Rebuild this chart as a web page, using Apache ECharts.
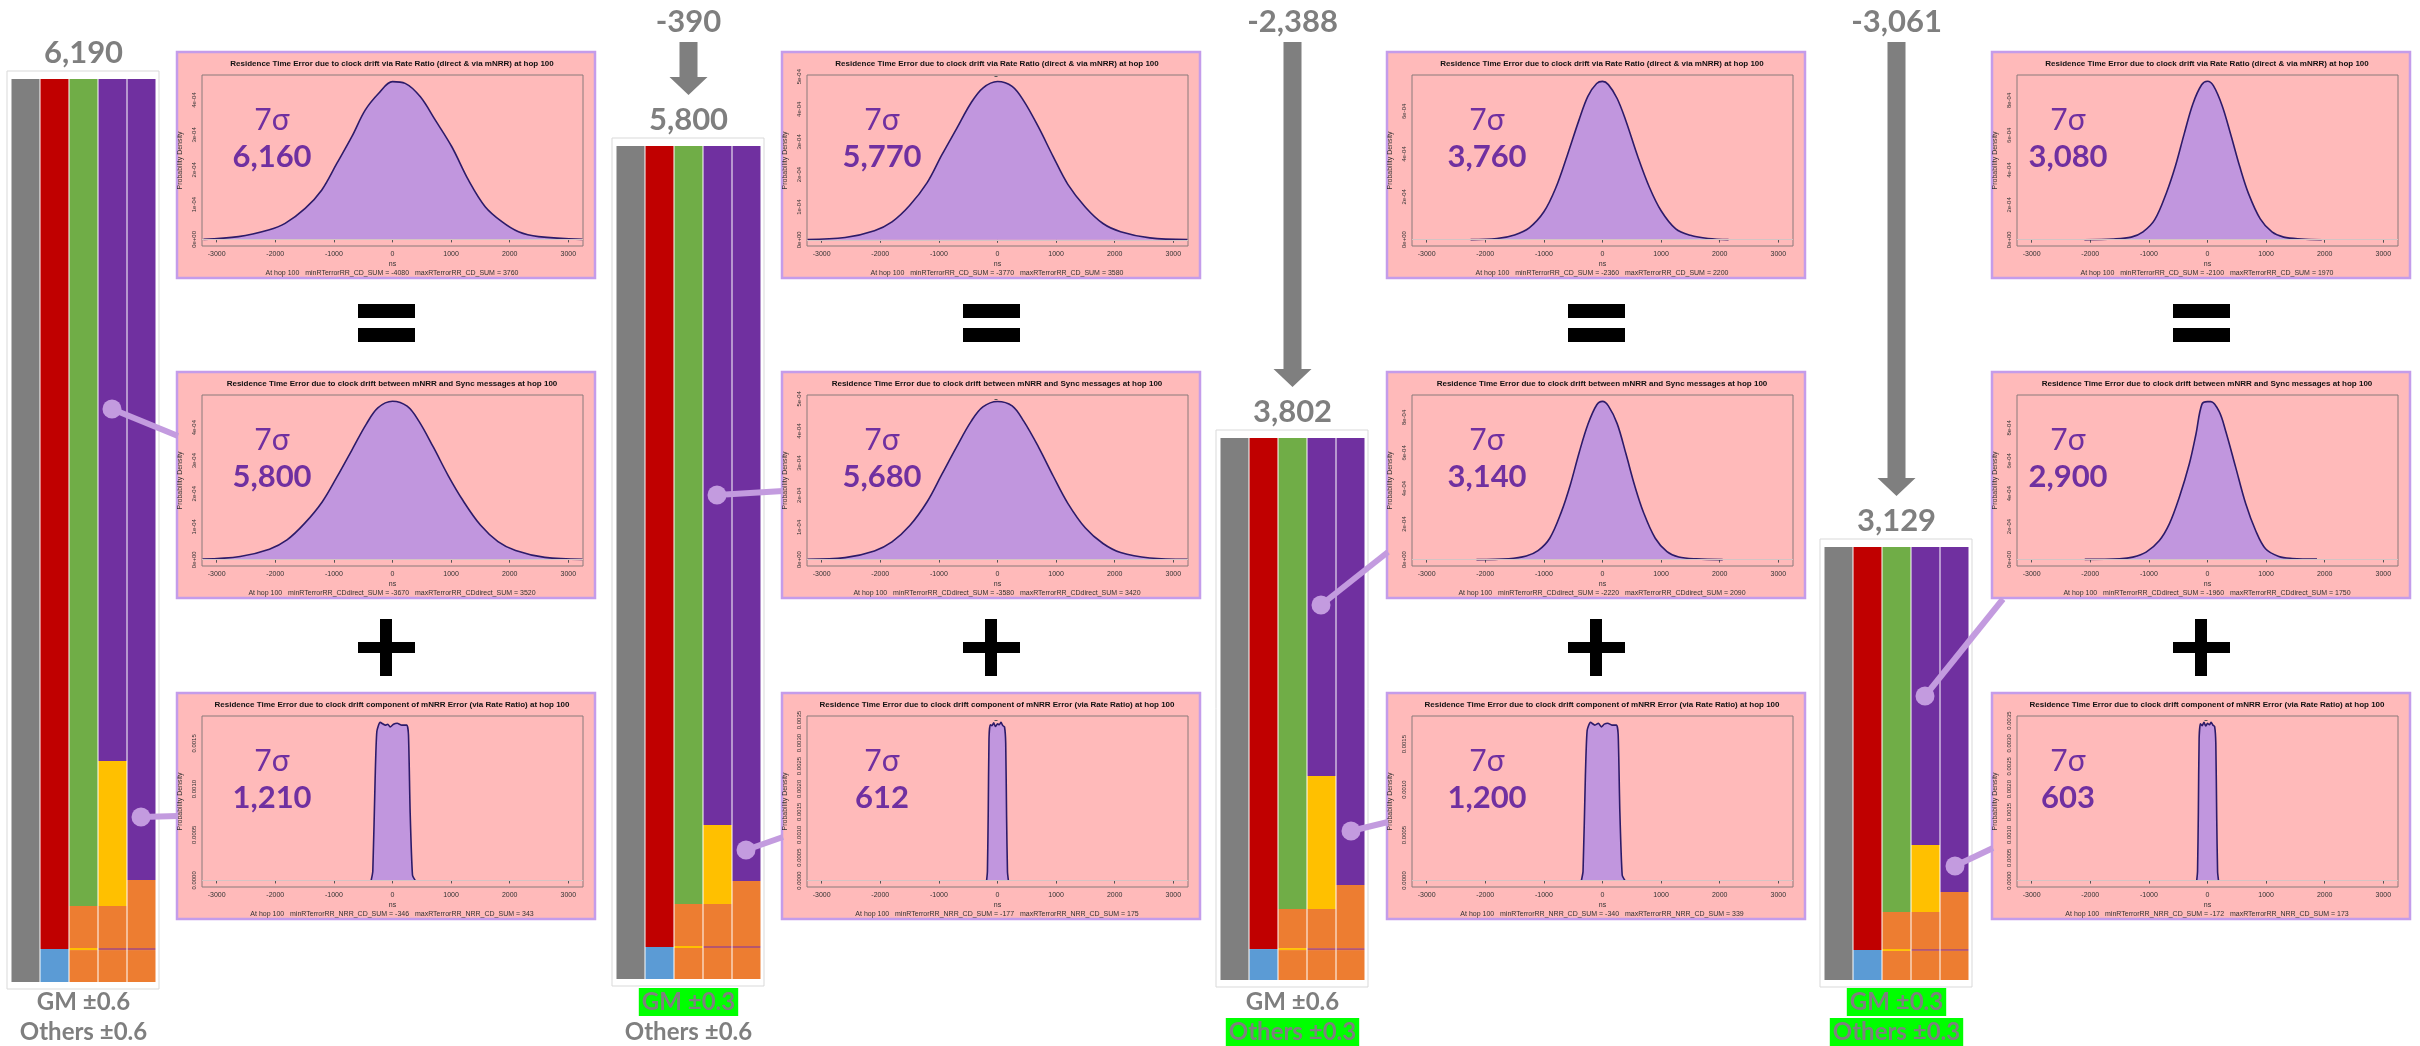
<!DOCTYPE html>
<html><head><meta charset="utf-8">
<script src="https://cdn.jsdelivr.net/npm/echarts@6/dist/echarts.min.js"></script>
<style>html,body{margin:0;padding:0;background:#fff}#c{width:2420px;height:1046px}</style>
</head><body><div id="c"></div>
<script>
// ---------------- DATA ----------------
const barCategories = ['1', '2', '3', '4', '5'];
const barTotals = [6190, 5800, 3802, 3129];
const barTotalLabels = ['6,190', '5,800', '3,802', '3,129'];
const deltaLabels = ['-390', '-2,388', '-3,061'];
const gmLabels = ['GM ±0.6', 'GM ±0.3', 'GM ±0.6', 'GM ±0.3'];
const othersLabels = ['Others ±0.6', 'Others ±0.6', 'Others ±0.3', 'Others ±0.3'];
const gmHighlighted = [false, true, false, true];
const othersHighlighted = [false, false, true, true];

// stacked segments per bar, bottom to top (ns)
const chart1Segments = [[6190], [226, 5964], [219, 14, 288, 5669], [219, 14, 288, 994, 4675], [219, 14, 466, 5491]];
const chart2Segments = [[5800], [223, 5577], [216, 14, 292, 5278], [216, 14, 292, 550, 4728], [216, 14, 453, 5117]];
const chart3Segments = [[3802], [217, 3585], [210, 14, 274, 3304], [210, 14, 274, 933, 2371], [210, 14, 442, 3136]];
const chart4Segments = [[3129], [217, 2912], [210, 14, 267, 2638], [210, 14, 267, 484, 2154], [210, 14, 412, 2493]];

// 7-sigma values shown in the density panels [row][col]
const sigmaRow1 = [6160, 5770, 3760, 3080];
const sigmaRow2 = [5800, 5680, 3140, 2900];
const sigmaRow3 = [1210, 612, 1200, 603];

const panelTitles = [
  'Residence Time Error due to clock drift via Rate Ratio (direct & via mNRR) at hop 100',
  'Residence Time Error due to clock drift between mNRR and Sync messages at hop 100',
  'Residence Time Error due to clock drift component of mNRR Error (via Rate Ratio) at hop 100'
];
const footerVars = ['RTerrorRR_CD_SUM', 'RTerrorRR_CDdirect_SUM', 'RTerrorRR_NRR_CD_SUM'];
const footerMinRow1 = [-4080, -3770, -2360, -2100];
const footerMaxRow1 = [3760, 3580, 2200, 1970];
const footerMinRow2 = [-3670, -3580, -2220, -1960];
const footerMaxRow2 = [3520, 3420, 2090, 1750];
const footerMinRow3 = [-346, -177, -340, -172];
const footerMaxRow3 = [343, 175, 339, 173];

// density curves: x in ns, y in units of 1e-4 probability density
const c1r1X = [-3225, -2628, -2116, -1832, -1490, -1206, -950, -694, -466, -239, 0, 216, 472, 728, 1012, 1297, 1581, 1866, 2150, 2491, 3240];
const c1r1Y = [0, 0.08, 0.27, 0.46, 0.89, 1.42, 2.18, 2.95, 3.71, 4.19, 4.53, 4.48, 4.10, 3.43, 2.66, 1.70, 0.94, 0.51, 0.22, 0.08, 0];
const c2r1X = [-3240, -2600, -2100, -1800, -1500, -1200, -950, -700, -450, -250, 0, 250, 450, 700, 950, 1200, 1500, 1800, 2100, 2600, 3240];
const c2r1Y = [0.01, 0.07, 0.28, 0.55, 1.05, 1.75, 2.6, 3.4, 4.2, 4.65, 4.85, 4.7, 4.25, 3.45, 2.55, 1.7, 1.0, 0.5, 0.25, 0.06, 0.01];
const c3r1X = [-2250, -1800, -1500, -1250, -1000, -800, -600, -400, -250, -100, 0, 100, 250, 400, 600, 800, 1000, 1250, 1500, 1800, 2150];
const c3r1Y = [0, 0.05, 0.22, 0.55, 1.3, 2.4, 3.95, 5.6, 6.7, 7.3, 7.4, 7.25, 6.6, 5.55, 3.9, 2.45, 1.35, 0.5, 0.2, 0.05, 0];
const c4r1X = [-2100, -1600, -1300, -1100, -900, -700, -550, -400, -250, -100, 0, 100, 250, 400, 550, 700, 900, 1100, 1300, 1600, 1950];
const c4r1Y = [0, 0.04, 0.15, 0.45, 1.15, 2.7, 4.2, 6.05, 7.8, 8.9, 9.1, 8.85, 7.7, 6.0, 4.2, 2.65, 1.2, 0.45, 0.15, 0.04, 0];

const c1r2X = [-3240, -2600, -2100, -1800, -1500, -1200, -950, -700, -450, -250, 0, 250, 450, 700, 950, 1200, 1500, 1800, 2100, 2600, 3240];
const c1r2Y = [0.02, 0.1, 0.32, 0.6, 1.1, 1.75, 2.5, 3.3, 4.1, 4.6, 4.8, 4.65, 4.2, 3.4, 2.55, 1.8, 1.05, 0.55, 0.28, 0.07, 0.01];
const c2r2X = [-3240, -2600, -2100, -1800, -1500, -1200, -950, -700, -450, -250, 0, 250, 450, 700, 950, 1200, 1500, 1800, 2100, 2600, 3240];
const c2r2Y = [0.01, 0.06, 0.27, 0.55, 1.05, 1.8, 2.65, 3.5, 4.3, 4.75, 4.92, 4.78, 4.3, 3.5, 2.6, 1.75, 0.98, 0.5, 0.22, 0.05, 0.01];
const c3r2X = [-2150, -1600, -1300, -1100, -900, -700, -550, -400, -250, -100, 0, 100, 250, 400, 550, 700, 900, 1100, 1300, 1600, 2050];
const c3r2Y = [0, 0.05, 0.2, 0.5, 1.2, 2.7, 4.2, 6.0, 7.6, 8.7, 8.9, 8.65, 7.65, 5.95, 4.15, 2.65, 1.2, 0.45, 0.15, 0.04, 0];
const c4r2X = [-2094, -1500, -1273, -1047, -821, -651, -481, -311, -198, -96, 0, 57, 198, 311, 481, 651, 821, 990, 1217, 1443, 1868];
const c4r2Y = [0, 0.04, 0.14, 0.44, 1.15, 2.16, 3.78, 5.8, 7.6, 9.43, 9.6, 9.6, 9.0, 7.8, 5.6, 3.4, 1.76, 0.65, 0.18, 0.06, 0.02];

const c1r3X = [-364, -336, -296, -267, -210, -125, -80, -40, 17, 80, 159, 245, 273, 301, 341, 387];
const c1r3Y = [0, 1.0, 11.2, 16.3, 17.3, 17.0, 17.1, 16.8, 17.1, 17.2, 17.0, 17.0, 15.9, 7.5, 0.6, 0];
const c2r3X = [-186, -172, -158, -145, -125, -95, -65, -35, 0, 30, 60, 90, 120, 140, 155, 170, 186];
const c2r3Y = [0, 2, 15, 31, 34, 33.8, 34.4, 33.6, 34.2, 34, 34.5, 33.8, 33.5, 30, 14, 2, 0];
const c3r3X = [-360, -332, -292, -262, -205, -130, -70, -20, 30, 90, 160, 240, 268, 296, 336, 382];
const c3r3Y = [0, 1.0, 11.5, 16.5, 17.4, 17.1, 17.3, 16.9, 17.2, 17.3, 17.1, 17.1, 16.0, 7.6, 0.6, 0];
const c4r3X = [-184, -170, -156, -143, -122, -92, -60, -30, 0, 32, 62, 92, 122, 142, 157, 172, 188];
const c4r3Y = [0, 2, 15, 31, 34.3, 33.9, 34.6, 33.8, 34.4, 34.1, 34.6, 34, 33.7, 30, 14, 2, 0];

// axis ranges of the density panels (y in 1e-4 units)
const yMaxRow1 = [4.72, 5.05, 7.7, 9.46];
const yMaxRow2 = [4.99, 5.12, 9.26, 10.0];
const yMaxRow3 = [18.0, 35.9, 18.1, 36.0];
const yMinRow1 = [-0.19, -0.19, -0.3, -0.36];
const yMinRow2 = [-0.19, -0.2, -0.36, -0.4];
const yMinRow3 = [-0.72, -1.4, -0.72, -1.4];

// tick labels
const xTicks = [-3000, -2000, -1000, 0, 1000, 2000, 3000];
const xTickLabels = ['-3000', '-2000', '-1000', '0', '1000', '2000', '3000'];
const yTicksA = [0, 1, 2, 3, 4];
const yLabelsA = ['0e+00', '1e-04', '2e-04', '3e-04', '4e-04'];
const yTicksB = [0, 1, 2, 3, 4, 5];
const yLabelsB = ['0e+00', '1e-04', '2e-04', '3e-04', '4e-04', '5e-04'];
const yTicksC = [0, 2, 4, 6];
const yLabelsC = ['0e+00', '2e-04', '4e-04', '6e-04'];
const yTicksD = [0, 2, 4, 6, 8];
const yLabelsD = ['0e+00', '2e-04', '4e-04', '6e-04', '8e-04'];
const yTicksE = [0, 5, 10, 15];
const yLabelsE = ['0.0000', '0.0005', '0.0010', '0.0015'];
const yTicksF = [0, 5, 10, 15, 20, 25, 30, 35];
const yLabelsF = ['0.0000', '0.0005', '0.0010', '0.0015', '0.0020', '0.0025', '0.0030', '0.0035'];

// ---------------- BUILD ----------------
const barColors = [
  ['#7F7F7F'],
  ['#5B9BD5', '#C00000'],
  ['#ED7D31', '#FFC000', '#ED7D31', '#70AD47'],
  ['#ED7D31', '#B5566E', '#ED7D31', '#FFC000', '#7030A0'],
  ['#ED7D31', '#B5566E', '#ED7D31', '#7030A0']
];
const segs = [chart1Segments, chart2Segments, chart3Segments, chart4Segments];
const barLayout = [
  { left: 11, top: 79, bottom: 982 },
  { left: 616, top: 146, bottom: 979 },
  { left: 1220, top: 438, bottom: 980 },
  { left: 1824, top: 547, bottom: 980 }
];
const BW = 145;
const colX = [177, 782, 1387, 1992];
const rowY = [52, 372, 693];
const PW = 418, PH = 226;
const sigmaOffX = [95, 100, 100, 76];

const FL = 'Lato, "Open Sans", sans-serif';
const FR = '"Liberation Sans", Arial, sans-serif';
const GRAY = '#7F7F7F';
const PURPLE = '#7030A0';
const LILAC = '#C39BDF';

const curves = [
  [[c1r1X, c1r1Y], [c2r1X, c2r1Y], [c3r1X, c3r1Y], [c4r1X, c4r1Y]],
  [[c1r2X, c1r2Y], [c2r2X, c2r2Y], [c3r2X, c3r2Y], [c4r2X, c4r2Y]],
  [[c1r3X, c1r3Y], [c2r3X, c2r3Y], [c3r3X, c3r3Y], [c4r3X, c4r3Y]]
];
const sigmas = [sigmaRow1, sigmaRow2, sigmaRow3];
const yMax = [yMaxRow1, yMaxRow2, yMaxRow3];
const yMin = [yMinRow1, yMinRow2, yMinRow3];
const fMin = [footerMinRow1, footerMinRow2, footerMinRow3];
const fMax = [footerMaxRow1, footerMaxRow2, footerMaxRow3];
const tickSets = { A: [yTicksA, yLabelsA], B: [yTicksB, yLabelsB], C: [yTicksC, yLabelsC], D: [yTicksD, yLabelsD], E: [yTicksE, yLabelsE], F: [yTicksF, yLabelsF] };
const panelTicks = [['A', 'B', 'C', 'D'], ['A', 'B', 'D', 'D'], ['E', 'F', 'E', 'F']];

const grids = [], xAxes = [], yAxes = [], series = [], graphics = [];

function nearestLabel(v, ticks, labels) {
  let bi = 0, bd = Infinity;
  ticks.forEach((t, i) => { const d = Math.abs(t - v); if (d < bd) { bd = d; bi = i; } });
  return labels[bi];
}
function fmt(n) { return n.toLocaleString('en-US'); }

// bar charts
barLayout.forEach((L, ci) => {
  const gi = grids.length;
  grids.push({ left: L.left, top: L.top, width: BW, height: L.bottom - L.top });
  xAxes.push({ type: 'category', gridIndex: gi, data: barCategories, show: false });
  yAxes.push({ type: 'value', gridIndex: gi, min: 0, max: barTotals[ci], show: false });
  for (let k = 0; k < 5; k++) {
    series.push({
      type: 'bar', xAxisIndex: gi, yAxisIndex: gi, stack: 'chart' + ci, barWidth: 28, silent: true,
      data: segs[ci].map((bar, bi) => bar[k] === undefined ? '-' : { value: bar[k], itemStyle: { color: barColors[bi][k] } })
    });
  }
  const cx = L.left + BW / 2;
  graphics.push({ type: 'rect', z: 1, shape: { x: L.left - 4, y: L.top - 8, width: BW + 7, height: L.bottom - L.top + 15 }, style: { fill: 'none', stroke: '#D9D9D9', lineWidth: 1 } });
  graphics.push({ type: 'text', z: 20, style: { text: barTotalLabels[ci], x: cx, y: L.top - 26, font: 'bold 31px ' + FL, fill: GRAY, align: 'center', verticalAlign: 'middle' } });
  const gmStyle = { text: gmLabels[ci], x: cx, y: 1002, font: 'bold 24px ' + FL, fill: GRAY, align: 'center', verticalAlign: 'middle' };
  if (gmHighlighted[ci]) Object.assign(gmStyle, { backgroundColor: '#00FF00', padding: [3, 3, 1, 3] });
  graphics.push({ type: 'text', z: 20, style: gmStyle });
  const oStyle = { text: othersLabels[ci], x: cx, y: 1032, font: 'bold 24px ' + FL, fill: GRAY, align: 'center', verticalAlign: 'middle' };
  if (othersHighlighted[ci]) Object.assign(oStyle, { backgroundColor: '#00FF00', padding: [3, 3, 1, 3] });
  graphics.push({ type: 'text', z: 20, style: oStyle });
  if (ci > 0) {
    graphics.push({ type: 'text', z: 20, style: { text: deltaLabels[ci - 1], x: cx, y: 22, font: 'bold 31px ' + FL, fill: GRAY, align: 'center', verticalAlign: 'middle' } });
    const tip = L.top - 51, headTop = tip - 18;
    graphics.push({ type: 'polygon', z: 20, shape: { points: [[cx - 9, 42], [cx + 9, 42], [cx + 9, headTop], [cx + 19, headTop], [cx, tip], [cx - 19, headTop], [cx - 9, headTop]] }, style: { fill: GRAY } });
  }
});

// density panels
for (let r = 0; r < 3; r++) {
  for (let c = 0; c < 4; c++) {
    const x0 = colX[c], y0 = rowY[r];
    const gi = grids.length;
    const [yt, yl] = tickSets[panelTicks[r][c]];
    grids.push({ left: x0 + 25, top: y0 + 23, width: 381, height: 171, show: true, borderColor: '#8a7b7b', borderWidth: 1, backgroundColor: 'transparent', z: 3 });
    xAxes.push({
      type: 'value', gridIndex: gi, min: -3250, max: 3250,
      name: 'ns', nameLocation: 'middle', nameGap: 15, nameTextStyle: { fontSize: 7, color: '#333', fontFamily: FR },
      axisLine: { show: false }, splitLine: { show: false },
      axisTick: { show: true, length: 3, customValues: xTicks, lineStyle: { color: '#555' } },
      axisLabel: { fontSize: 7, color: '#333', fontFamily: FR, margin: 5, customValues: xTicks, formatter: v => nearestLabel(v, xTicks, xTickLabels) }
    });
    yAxes.push({
      type: 'value', gridIndex: gi, min: yMin[r][c], max: yMax[r][c],
      name: 'Probability Density', nameLocation: 'middle', nameGap: 18, nameRotate: 90, nameTextStyle: { fontSize: 7, color: '#333', fontFamily: FR },
      axisLine: { show: false }, splitLine: { show: false },
      axisTick: { show: true, length: 3, customValues: yt, lineStyle: { color: '#555' } },
      axisLabel: { fontSize: 6, color: '#333', fontFamily: FR, margin: 5, rotate: 90, customValues: yt, formatter: v => nearestLabel(v, yt, yl) }
    });
    const [X, Y] = curves[r][c];
    series.push({
      type: 'line', xAxisIndex: gi, yAxisIndex: gi, z: 4, silent: true,
      data: X.map((x, i) => [x, Y[i]]), smooth: r === 2 ? 0.2 : 0.35, showSymbol: false,
      lineStyle: { color: '#2D1B69', width: 1.6 }, areaStyle: { color: '#C196DE', opacity: 1 },
      markLine: { silent: true, symbol: 'none', label: { show: false }, lineStyle: { color: '#d4c4c4', width: 1, type: 'solid' }, data: [{ yAxis: 0 }] }
    });
    graphics.push({ type: 'rect', z: -5, shape: { x: x0, y: y0, width: PW, height: PH }, style: { fill: '#FFBABA', stroke: '#C49CEA', lineWidth: 2.5 } });
    graphics.push({ type: 'text', z: 20, style: { text: panelTitles[r], x: x0 + 215, y: y0 + 12, font: 'bold 8px ' + FR, fill: '#111', align: 'center', verticalAlign: 'middle' } });
    graphics.push({ type: 'text', z: 20, style: { text: `At hop 100   min${footerVars[r]} = ${fMin[r][c]}   max${footerVars[r]} = ${fMax[r][c]}`, x: x0 + 215, y: y0 + 221, font: '7px ' + FR, fill: '#333', align: 'center', verticalAlign: 'middle' } });
    graphics.push({ type: 'text', z: 30, style: { text: '7σ', x: x0 + sigmaOffX[c], y: y0 + 68, font: '30px ' + FL, fill: PURPLE, align: 'center', verticalAlign: 'middle' } });
    graphics.push({ type: 'text', z: 30, style: { text: fmt(sigmas[r][c]), x: x0 + sigmaOffX[c], y: y0 + 105, font: 'bold 31px ' + FL, fill: PURPLE, align: 'center', verticalAlign: 'middle' } });
  }
}
// equal and plus signs
colX.forEach(x0 => {
  const cx = x0 + 209;
  graphics.push({ type: 'rect', z: 20, shape: { x: cx - 28, y: 304, width: 57, height: 14 }, style: { fill: '#000' } });
  graphics.push({ type: 'rect', z: 20, shape: { x: cx - 28, y: 328, width: 57, height: 14 }, style: { fill: '#000' } });
  graphics.push({ type: 'rect', z: 20, shape: { x: cx - 6, y: 619, width: 12, height: 57 }, style: { fill: '#000' } });
  graphics.push({ type: 'rect', z: 20, shape: { x: cx - 28, y: 642, width: 57, height: 11 }, style: { fill: '#000' } });
});

// connectors from bars to panels
const connectors = [
  [112, 409, 178, 436], [141, 817, 178, 816],
  [717, 495, 783, 491], [746, 850, 783, 837],
  [1321, 605, 1388, 552], [1351, 831, 1388, 822],
  [1925, 696, 2003, 599], [1955, 866, 1993, 848]
];
connectors.forEach(([x1, y1, x2, y2]) => {
  graphics.push({ type: 'line', z: 40, shape: { x1, y1, x2, y2 }, style: { stroke: LILAC, lineWidth: 6 } });
  graphics.push({ type: 'circle', z: 41, shape: { cx: x1, cy: y1, r: 9.5 }, style: { fill: LILAC } });
});

const chart = echarts.init(document.getElementById('c'), null, { renderer: 'canvas' });
chart.setOption({
  animation: false,
  backgroundColor: '#fff',
  grid: grids, xAxis: xAxes, yAxis: yAxes, series: series,
  graphic: { elements: graphics }
});
</script></body></html>
